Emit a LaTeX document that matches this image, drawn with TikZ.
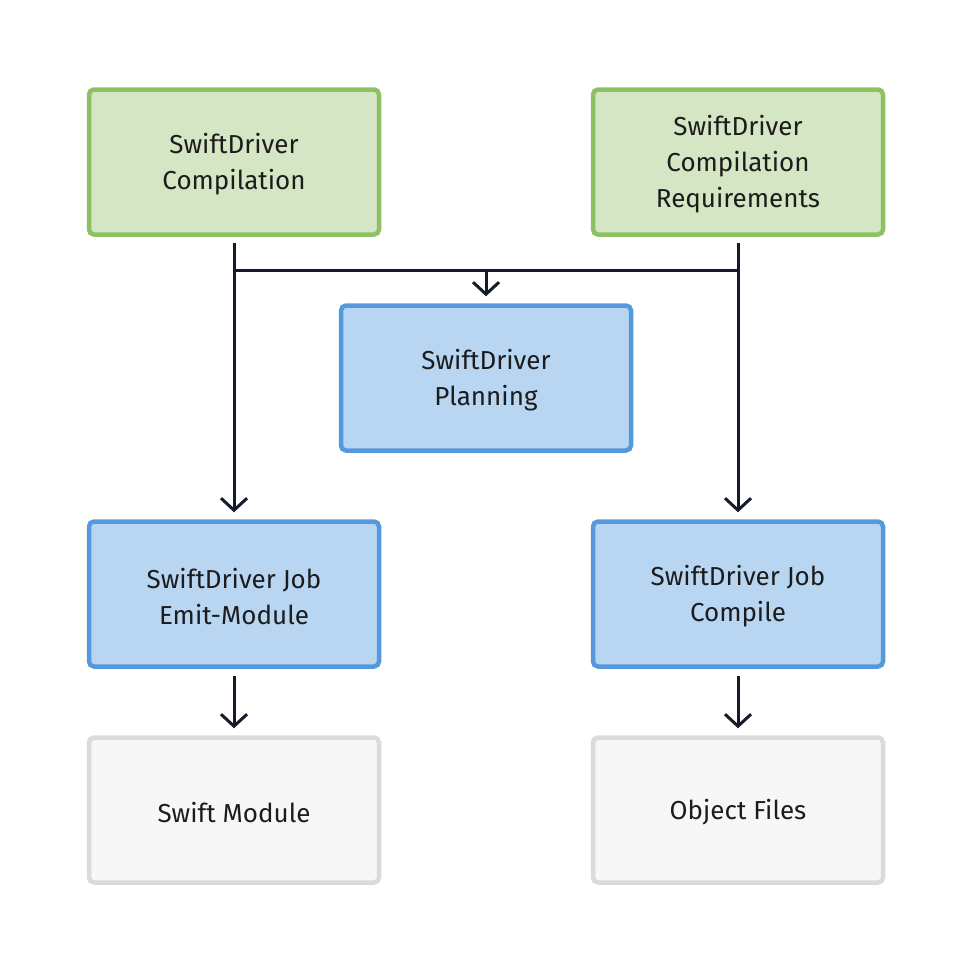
\documentclass[tikz,border=0pt]{standalone}
\usepackage{fontspec}
\setmainfont{Fira Sans}
\usetikzlibrary{arrows.meta}
\definecolor{gfill}{HTML}{D4E6C4}
\definecolor{gdraw}{HTML}{8DC164}
\definecolor{bfill}{HTML}{B8D6F2}
\definecolor{bdraw}{HTML}{5599DD}
\definecolor{nfill}{HTML}{F7F7F7}
\definecolor{ndraw}{HTML}{DADADF}
\definecolor{ink}{HTML}{151A2A}
\definecolor{txt}{HTML}{1C1C1C}
\begin{document}
\begin{tikzpicture}[x=1pt,y=-1pt,
  box/.style={rectangle, rounded corners=5pt, line width=4.5pt, minimum width=290pt, minimum height=145pt,
    inner sep=0pt, label={[txtlbl]center:#1}},
  txtlbl/.style={align=center, font=\fontsize{26}{36}\selectfont, text=txt, inner sep=0pt, yshift=-2.5pt},
  green/.style={box=#1, fill=gfill, draw=gdraw},
  blue/.style={box=#1, fill=bfill, draw=bdraw},
  gray/.style={box=#1, fill=nfill, draw=ndraw},
  conn/.style={draw=ink, line width=3pt},
  arr/.style={conn, -{Straight Barb[length=12pt,width=26pt,line width=3pt]}}]
\useasboundingbox (0,0) rectangle (972,972);
\node[green={SwiftDriver\\Compilation}] (comp) at (234,162) {};
\node[green={SwiftDriver\\Compilation\\Requirements}] (req) at (738,162) {};
\node[blue={SwiftDriver\\Planning}] (plan) at (486,378) {};
\node[blue={SwiftDriver Job\\Emit-Module}] (emit) at (234,594) {};
\node[blue={SwiftDriver Job\\Compile}] (cjob) at (738,594) {};
\node[gray={Swift Module}] (mod) at (234,810) {};
\node[gray={Object Files}] (obj) at (738,810) {};
\coordinate (jl) at (234,270);
\coordinate (jr) at (738,270);
\coordinate (jm) at (486,270);
\draw[arr] ([yshift=-6pt]comp.south) -- ([yshift=7pt]emit.north);
\draw[arr] ([yshift=-6pt]req.south) -- ([yshift=7pt]cjob.north);
\draw[conn] (jl) -- (jr);
\draw[arr] (jm) -- ([yshift=7pt]plan.north);
\draw[arr] ([yshift=-7pt]emit.south) -- ([yshift=7pt]mod.north);
\draw[arr] ([yshift=-7pt]cjob.south) -- ([yshift=7pt]obj.north);
\end{tikzpicture}
\end{document}
